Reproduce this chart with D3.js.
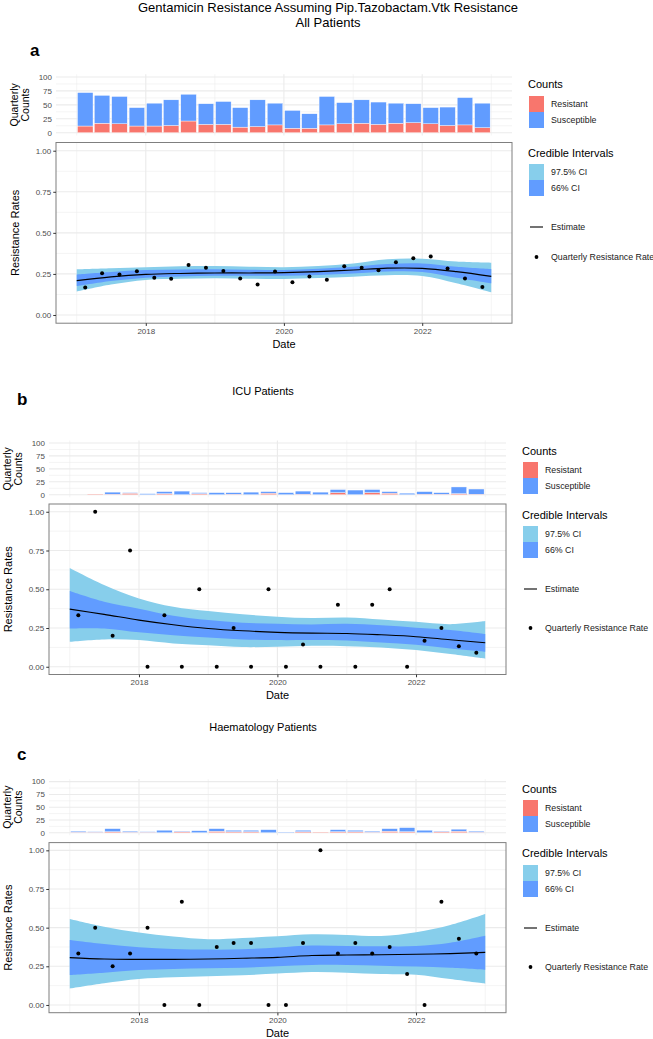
<!DOCTYPE html>
<html>
<head>
<meta charset="utf-8">
<script src="https://cdn.jsdelivr.net/npm/d3@7"></script>
<style>
  body { margin: 0; background: #fff; }
  text { font-family: "Liberation Sans", Arial, Helvetica, sans-serif; }
</style>
</head>
<body>
<svg id="chart" width="653" height="1039"></svg>
<script>
// quarter mid points (bars + dots) and the dates the smoothed fit is read at
const quarters = [
    "2017-02-15", "2017-05-15", "2017-08-15", "2017-11-15",
    "2018-02-15", "2018-05-15", "2018-08-15", "2018-11-15",
    "2019-02-15", "2019-05-15", "2019-08-15", "2019-11-15",
    "2020-02-15", "2020-05-15", "2020-08-15", "2020-11-15",
    "2021-02-15", "2021-05-15", "2021-08-15", "2021-11-15",
    "2022-02-15", "2022-05-15", "2022-08-15", "2022-11-15"
];
const smoothDates = [
    "2017-01-01", "2017-07-01", "2018-01-01", "2018-07-01", "2019-01-01",
    "2019-07-01", "2020-01-01", "2020-07-01", "2021-01-01", "2021-07-01",
    "2022-01-01", "2022-07-01", "2023-01-01"
];

// a: all patients
const allResistant = [12, 17, 16, 12, 12, 13, 21, 15, 15, 10, 11, 14, 8, 8, 14, 16, 17, 15, 17, 18, 16, 13, 14, 9];
const allSusceptible = [60, 50, 49, 33, 41, 46, 48, 37, 41, 35, 48, 39, 32, 26, 51, 38, 42, 40, 36, 34, 29, 33, 49, 44];
const allRate = [0.167, 0.254, 0.246, 0.267, 0.226, 0.220, 0.304, 0.288, 0.268, 0.222, 0.186, 0.264,
    0.200, 0.235, 0.215, 0.296, 0.288, 0.273, 0.321, 0.346, 0.356, 0.283, 0.222, 0.170];
const allEstimate = [0.209, 0.232, 0.247, 0.253, 0.256, 0.256, 0.258, 0.264, 0.274, 0.285, 0.284, 0.264, 0.235];
const allLo97 = [0.142, 0.185, 0.213, 0.220, 0.223, 0.221, 0.219, 0.225, 0.233, 0.242, 0.237, 0.193, 0.138];
const allHi97 = [0.278, 0.285, 0.290, 0.296, 0.298, 0.294, 0.290, 0.298, 0.314, 0.340, 0.343, 0.325, 0.318];
const allLo66 = [0.176, 0.207, 0.227, 0.234, 0.239, 0.239, 0.239, 0.244, 0.252, 0.265, 0.262, 0.227, 0.193];
const allHi66 = [0.247, 0.262, 0.274, 0.277, 0.278, 0.276, 0.274, 0.282, 0.294, 0.310, 0.314, 0.294, 0.280];

// b: ICU patients
const icuResistant = [0, 1, 1, 3, 0, 2, 0, 2, 0, 1, 0, 3, 0, 1, 0, 4, 0, 4, 3, 0, 1, 1, 2, 1];
const icuSusceptible = [0, 0, 4, 1, 2, 4, 7, 2, 4, 3, 5, 3, 4, 6, 5, 6, 9, 6, 3, 3, 5, 3, 13, 10];
const icuRate = [0.333, 1.0, 0.2, 0.75, 0, 0.333, 0, 0.5, 0, 0.25, 0, 0.5,
    0, 0.143, 0, 0.4, 0, 0.4, 0.5, 0, 0.167, 0.25, 0.133, 0.091];
const icuEstimate = [0.372, 0.338, 0.301, 0.271, 0.247, 0.232, 0.222, 0.217, 0.215, 0.206, 0.194, 0.174, 0.155];
const icuLo97 = [0.161, 0.176, 0.172, 0.150, 0.138, 0.127, 0.129, 0.135, 0.133, 0.125, 0.108, 0.082, 0.052];
const icuHi97 = [0.637, 0.527, 0.441, 0.387, 0.359, 0.338, 0.323, 0.314, 0.318, 0.305, 0.290, 0.275, 0.295];
const icuLo66 = [0.247, 0.247, 0.222, 0.204, 0.189, 0.176, 0.172, 0.172, 0.170, 0.157, 0.142, 0.118, 0.097];
const icuHi66 = [0.488, 0.419, 0.374, 0.329, 0.301, 0.284, 0.277, 0.273, 0.277, 0.267, 0.252, 0.237, 0.211];

// c: haematology patients
const haemResistant = [1, 1, 2, 1, 1, 0, 2, 0, 3, 2, 2, 0, 0, 2, 1, 2, 2, 1, 3, 2, 0, 2, 3, 1];
const haemSusceptible = [2, 1, 6, 2, 1, 5, 1, 4, 5, 3, 3, 6, 1, 3, 0, 4, 3, 2, 5, 8, 5, 1, 4, 2];
const haemRate = [0.333, 0.5, 0.25, 0.333, 0.5, 0, 0.667, 0, 0.375, 0.4, 0.4, 0,
    0, 0.4, 1.0, 0.333, 0.4, 0.333, 0.375, 0.2, 0, 0.667, 0.429, 0.333];
const haemEstimate = [0.306, 0.297, 0.295, 0.295, 0.297, 0.302, 0.308, 0.320, 0.323, 0.325, 0.328, 0.332, 0.340];
const haemLo97 = [0.106, 0.140, 0.168, 0.179, 0.185, 0.192, 0.203, 0.213, 0.209, 0.200, 0.196, 0.168, 0.138];
const haemHi97 = [0.556, 0.506, 0.468, 0.442, 0.425, 0.433, 0.444, 0.457, 0.453, 0.446, 0.470, 0.517, 0.588];
const haemLo66 = [0.194, 0.209, 0.226, 0.233, 0.237, 0.241, 0.250, 0.259, 0.259, 0.254, 0.248, 0.241, 0.228];
const haemHi66 = [0.420, 0.394, 0.373, 0.362, 0.358, 0.360, 0.371, 0.384, 0.381, 0.379, 0.381, 0.403, 0.448];

const countTicks = [0, 25, 50, 75, 100];
const rateTicks = [0, 0.25, 0.5, 0.75, 1];
const yearLabels = ["2018-01-01", "2020-01-01", "2022-01-01"];
const yearGrid = ["2017-01-01", "2019-01-01", "2021-01-01", "2023-01-01"];

const colors = {
    resistant: "#F8766D",
    susceptible: "#619CFF",
    ci97: "#87CEEB",
    ci66: "#619CFF"
};

const parseDate = d3.timeParse("%Y-%m-%d");
const svg = d3.select("#chart");

// main title
svg.append("text").attr("x", 328).attr("y", 12).attr("text-anchor", "middle")
    .attr("font-size", 13).text("Gentamicin Resistance Assuming Pip.Tazobactam.Vtk Resistance");
svg.append("text").attr("x", 328).attr("y", 26.5).attr("text-anchor", "middle")
    .attr("font-size", 13).text("All Patients");

const panels = [
    {
        tag: "a", tagX: 30, tagY: 56, title: null,
        left: 56, right: 512, barTop: 74.2, barBottom: 135.5, rateTop: 142.5, rateBottom: 323.2,
        resistant: allResistant, susceptible: allSusceptible, rate: allRate,
        estimate: allEstimate, lo97: allLo97, hi97: allHi97, lo66: allLo66, hi66: allHi66,
        legend: { x: 529, counts: 88, countKeys: 96, ci: 157, ciKeys: 164, est: 227, pt: 257 }
    },
    {
        tag: "b", tagX: 17, tagY: 405, title: "ICU Patients", titleY: 395,
        left: 49, right: 506, barTop: 440.4, barBottom: 497.3, rateTop: 504, rateBottom: 674.5,
        resistant: icuResistant, susceptible: icuSusceptible, rate: icuRate,
        estimate: icuEstimate, lo97: icuLo97, hi97: icuHi97, lo66: icuLo66, hi66: icuHi66,
        legend: { x: 523, counts: 455, countKeys: 462, ci: 519, ciKeys: 526, est: 589, pt: 628 }
    },
    {
        tag: "c", tagX: 17, tagY: 760, title: "Haematology Patients", titleY: 731,
        left: 49, right: 506, barTop: 779.1, barBottom: 835.3, rateTop: 842.6, rateBottom: 1012.7,
        resistant: haemResistant, susceptible: haemSusceptible, rate: haemRate,
        estimate: haemEstimate, lo97: haemLo97, hi97: haemHi97, lo66: haemLo66, hi66: haemHi66,
        legend: { x: 523, counts: 793, countKeys: 800, ci: 857, ciKeys: 865, est: 928, pt: 967 }
    }
];

panels.forEach(drawPanel);

function drawPanel(p) {
    const g = svg.append("g");

    // tag and subtitle
    g.append("text").attr("x", p.tagX).attr("y", p.tagY)
        .attr("font-size", 17).attr("font-weight", "bold").text(p.tag);
    if (p.title) {
        g.append("text").attr("x", 263).attr("y", p.titleY).attr("text-anchor", "middle")
            .attr("font-size", 11).text(p.title);
    }

    // shared x scale (ggplot adds 5% either side)
    const start = parseDate("2017-01-01"), end = parseDate("2023-01-01");
    const pad = (end - start) * 0.05;
    const x = d3.scaleTime()
        .domain([new Date(+start - pad), new Date(+end + pad)])
        .range([p.left, p.right]);
    const quarterPx = (x(parseDate("2018-01-01")) - x(parseDate("2017-01-01"))) / 4;
    const barW = quarterPx * 0.9;

    // ---------- bar panel ----------
    const yb = d3.scaleLinear().domain([-5, 105]).range([p.barBottom, p.barTop]);
    drawGrid(g, x, yb, countTicks, p.left, p.right, p.barTop, p.barBottom);

    const table = quarters.map((q, i) => ({
        date: parseDate(q), resistant: p.resistant[i], susceptible: p.susceptible[i]
    }));
    const stacked = d3.stack().keys(["resistant", "susceptible"])(table);
    g.append("g").selectAll("g")
        .data(stacked)
        .enter()
        .append("g")
        .attr("fill", d => colors[d.key])
        .selectAll("rect")
        .data(d => d)
        .enter()
        .append("rect")
        .attr("x", d => x(d.data.date) - barW / 2)
        .attr("width", barW)
        .attr("y", d => yb(d[1]))
        .attr("height", d => Math.max(0, yb(d[0]) - yb(d[1])))
        .attr("stroke", "#fff")
        .attr("stroke-width", 0.4);

    g.append("g").selectAll("text")
        .data(countTicks)
        .enter()
        .append("text")
        .attr("x", p.left - 4)
        .attr("y", d => yb(d))
        .attr("dy", "0.35em")
        .attr("text-anchor", "end")
        .attr("font-size", 8)
        .attr("fill", "#4d4d4d")
        .text(d => d);

    const byc = (p.barTop + p.barBottom) / 2;
    g.append("text").attr("transform", `translate(${p.left - 42},${byc}) rotate(-90)`)
        .attr("text-anchor", "middle").attr("dy", "0.35em").attr("font-size", 10.5)
        .text("Quarterly");
    g.append("text").attr("transform", `translate(${p.left - 30.5},${byc}) rotate(-90)`)
        .attr("text-anchor", "middle").attr("dy", "0.35em").attr("font-size", 10.5)
        .text("Counts");

    // ---------- rate panel ----------
    const yr = d3.scaleLinear().domain([-0.05, 1.05]).range([p.rateBottom, p.rateTop]);
    drawGrid(g, x, yr, rateTicks, p.left, p.right, p.rateTop, p.rateBottom);

    const fit = smoothDates.map((d, i) => ({
        date: parseDate(d), est: p.estimate[i],
        lo97: p.lo97[i], hi97: p.hi97[i], lo66: p.lo66[i], hi66: p.hi66[i]
    }));
    const curve = d3.curveCatmullRom;
    g.append("path").datum(fit)
        .attr("fill", colors.ci97)
        .attr("d", d3.area().curve(curve).x(d => x(d.date)).y0(d => yr(d.lo97)).y1(d => yr(d.hi97)));
    g.append("path").datum(fit)
        .attr("fill", colors.ci66)
        .attr("d", d3.area().curve(curve).x(d => x(d.date)).y0(d => yr(d.lo66)).y1(d => yr(d.hi66)));
    g.append("path").datum(fit)
        .attr("fill", "none").attr("stroke", "#000").attr("stroke-width", 1.1)
        .attr("d", d3.line().curve(curve).x(d => x(d.date)).y(d => yr(d.est)));

    g.append("g").selectAll("circle")
        .data(quarters)
        .enter()
        .append("circle")
        .attr("cx", d => x(parseDate(d)))
        .attr("cy", (d, i) => yr(p.rate[i]))
        .attr("r", 2)
        .attr("fill", "#000");

    g.append("rect")
        .attr("x", p.left).attr("y", p.rateTop)
        .attr("width", p.right - p.left).attr("height", p.rateBottom - p.rateTop)
        .attr("fill", "none").attr("stroke", "#7f7f7f").attr("stroke-width", 1);

    // axes
    const yAxis = g.append("g")
        .attr("transform", `translate(${p.left},0)`)
        .call(d3.axisLeft(yr).tickValues(rateTicks).tickFormat(d3.format(".2f")).tickSize(2.75).tickPadding(2));
    const xAxis = g.append("g")
        .attr("transform", `translate(0,${p.rateBottom})`)
        .call(d3.axisBottom(x).tickValues(yearLabels.map(parseDate)).tickFormat(d3.timeFormat("%Y"))
            .tickSize(2.75).tickPadding(2));
    [yAxis, xAxis].forEach(a => {
        a.select(".domain").remove();
        a.selectAll("line").attr("stroke", "#333");
        a.selectAll("text").attr("font-size", 8).attr("fill", "#4d4d4d")
            .attr("font-family", "'Liberation Sans', Arial, sans-serif");
    });

    g.append("text")
        .attr("x", (p.left + p.right) / 2).attr("y", p.rateBottom + 24.5)
        .attr("text-anchor", "middle").attr("font-size", 11).text("Date");
    g.append("text")
        .attr("transform", `translate(${p.left - 41},${(p.rateTop + p.rateBottom) / 2}) rotate(-90)`)
        .attr("text-anchor", "middle").attr("dy", "0.35em").attr("font-size", 11)
        .text("Resistance Rates");

    drawLegend(g, p.legend);
}

function drawGrid(g, x, y, ticks, left, right, top, bottom) {
    const grid = g.append("g");
    const minorY = ticks.slice(1).map((t, i) => (t + ticks[i]) / 2);
    grid.selectAll(".minor-y").data(minorY).enter().append("line")
        .attr("x1", left).attr("x2", right).attr("y1", d => y(d)).attr("y2", d => y(d))
        .attr("stroke", "#ebebeb").attr("stroke-width", 0.55);
    grid.selectAll(".major-y").data(ticks).enter().append("line")
        .attr("x1", left).attr("x2", right).attr("y1", d => y(d)).attr("y2", d => y(d))
        .attr("stroke", "#ebebeb").attr("stroke-width", 1.1);
    grid.selectAll(".minor-x").data(yearGrid).enter().append("line")
        .attr("x1", d => x(parseDate(d))).attr("x2", d => x(parseDate(d)))
        .attr("y1", top).attr("y2", bottom)
        .attr("stroke", "#ebebeb").attr("stroke-width", 0.55);
    grid.selectAll(".major-x").data(yearLabels).enter().append("line")
        .attr("x1", d => x(parseDate(d))).attr("x2", d => x(parseDate(d)))
        .attr("y1", top).attr("y2", bottom)
        .attr("stroke", "#ebebeb").attr("stroke-width", 1.1);
}

function drawLegend(g, L) {
    const lg = g.append("g");
    const keyW = 15, keyH = 16, labelX = L.x + 22;

    function title(y, t) {
        lg.append("text").attr("x", L.x - 1).attr("y", y).attr("font-size", 11).text(t);
    }
    function key(y, fill, label) {
        lg.append("rect").attr("x", L.x).attr("y", y).attr("width", keyW).attr("height", keyH)
            .attr("fill", fill);
        lg.append("text").attr("x", labelX).attr("y", y + keyH / 2).attr("dy", "0.35em")
            .attr("font-size", 8.8).attr("fill", "#1a1a1a").text(label);
    }

    title(L.counts, "Counts");
    key(L.countKeys, colors.resistant, "Resistant");
    key(L.countKeys + keyH, colors.susceptible, "Susceptible");

    title(L.ci, "Credible Intervals");
    key(L.ciKeys, colors.ci97, "97.5% CI");
    key(L.ciKeys + keyH, colors.ci66, "66% CI");

    lg.append("line").attr("x1", L.x + 1).attr("x2", L.x + 14).attr("y1", L.est).attr("y2", L.est)
        .attr("stroke", "#000").attr("stroke-width", 1.1);
    lg.append("text").attr("x", labelX).attr("y", L.est).attr("dy", "0.35em")
        .attr("font-size", 8.8).attr("fill", "#1a1a1a").text("Estimate");

    lg.append("circle").attr("cx", L.x + 7.5).attr("cy", L.pt).attr("r", 1.9).attr("fill", "#000");
    lg.append("text").attr("x", labelX).attr("y", L.pt).attr("dy", "0.35em")
        .attr("font-size", 8.8).attr("fill", "#1a1a1a").text("Quarterly Resistance Rate");
}
</script>
</body>
</html>
